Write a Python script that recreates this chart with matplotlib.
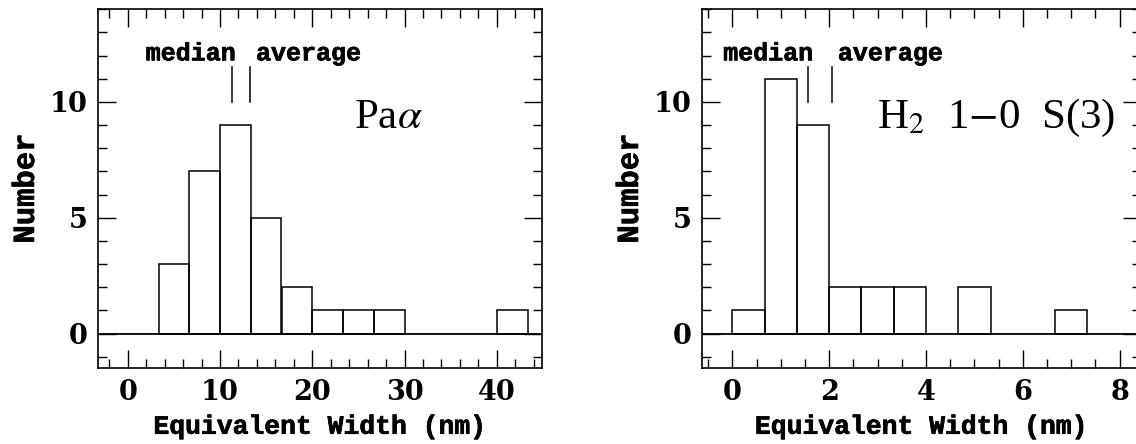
import numpy as np
import matplotlib.pyplot as plt
import matplotlib.patheffects as pe
from matplotlib.ticker import MultipleLocator

# Pa alpha histogram (bin lower edge, count), bin width 10/3 nm
pa_lo = [3.33, 6.67, 10.0, 13.33, 16.67, 20.0, 23.33, 26.67, 40.0]
pa_n = [3, 7, 9, 5, 2, 1, 1, 1, 1]
pa_w = 3.333
pa_median, pa_average = 11.3, 13.3

# H2 1-0 S(3) histogram, bin width 2/3 nm
h2_lo = [0.0, 0.667, 1.333, 2.0, 2.667, 3.333, 4.667, 6.667]
h2_n = [1, 11, 9, 2, 2, 2, 2, 1]
h2_w = 0.667
h2_median, h2_average = 1.56, 2.05

plt.rcParams['mathtext.fontset'] = 'stix'
mono = {'family': 'Liberation Mono', 'weight': 'bold'}
heavy = [pe.withStroke(linewidth=0.5, foreground='k')]

fig = plt.figure(figsize=(11.36, 4.44), dpi=100)
ax1 = fig.add_axes([0.0865, 0.1705, 0.3906, 0.8085])
ax2 = fig.add_axes([0.6182, 0.1705, 0.3862, 0.8085])


def style(ax, xmaj, xmin):
    ax.xaxis.set_major_locator(MultipleLocator(xmaj))
    ax.xaxis.set_minor_locator(MultipleLocator(xmin))
    ax.yaxis.set_major_locator(MultipleLocator(5))
    ax.yaxis.set_minor_locator(MultipleLocator(1))
    ax.tick_params(which='both', direction='in', top=True, right=True, width=1)
    ax.tick_params(which='major', length=13, pad=8)
    ax.tick_params(which='minor', length=6.5)
    for s in ax.spines.values():
        s.set_linewidth(1.2)
    for lab in ax.get_xticklabels() + ax.get_yticklabels():
        lab.set_fontfamily('DejaVu Serif')
        lab.set_fontweight('bold')
        lab.set_fontsize(19.5)
    ax.axhline(0, color='k', lw=1.3)
    ax.set_ylim(-1.5, 14)
    ax.set_xlabel('Equivalent Width (nm)', fontdict=mono, fontsize=19, labelpad=6,
                  path_effects=heavy)
    ax.set_ylabel('Number', fontdict=mono, fontsize=22, labelpad=6,
                  path_effects=heavy)


# left panel
ax1.bar(pa_lo, pa_n, width=pa_w, align='edge', fill=False, edgecolor='k', lw=1.1)
ax1.set_xlim(-3.2, 44.9)
style(ax1, 10, 2)
ax1.plot([pa_median, pa_median], [10, 11.5], color='k', lw=1.1)
ax1.plot([pa_average, pa_average], [10, 11.5], color='k', lw=1.1)
ax1.text(11.7, 12.1, 'median', ha='right', va='center', fontdict=mono, fontsize=18,
         path_effects=heavy)
ax1.text(13.9, 12.1, 'average', ha='left', va='center', fontdict=mono, fontsize=18,
         path_effects=heavy)
ax1.text(28.2, 9.3, r'Pa$\alpha$', ha='center', va='center',
         family='Liberation Serif', fontsize=31)

# right panel
ax2.bar(h2_lo, h2_n, width=h2_w, align='edge', fill=False, edgecolor='k', lw=1.1)
ax2.set_xlim(-0.62, 8.44)
style(ax2, 2, 0.5)
ax2.plot([h2_median, h2_median], [10, 11.5], color='k', lw=1.1)
ax2.plot([h2_average, h2_average], [10, 11.5], color='k', lw=1.1)
ax2.text(1.67, 12.1, 'median', ha='right', va='center', fontdict=mono, fontsize=18,
         path_effects=heavy)
ax2.text(2.18, 12.1, 'average', ha='left', va='center', fontdict=mono, fontsize=18,
         path_effects=heavy)
ax2.text(5.44, 9.3, r'H$_2$  1$-$0  S(3)', ha='center', va='center',
         family='Liberation Serif', fontsize=31)

fig.savefig('out.png', dpi=100)
